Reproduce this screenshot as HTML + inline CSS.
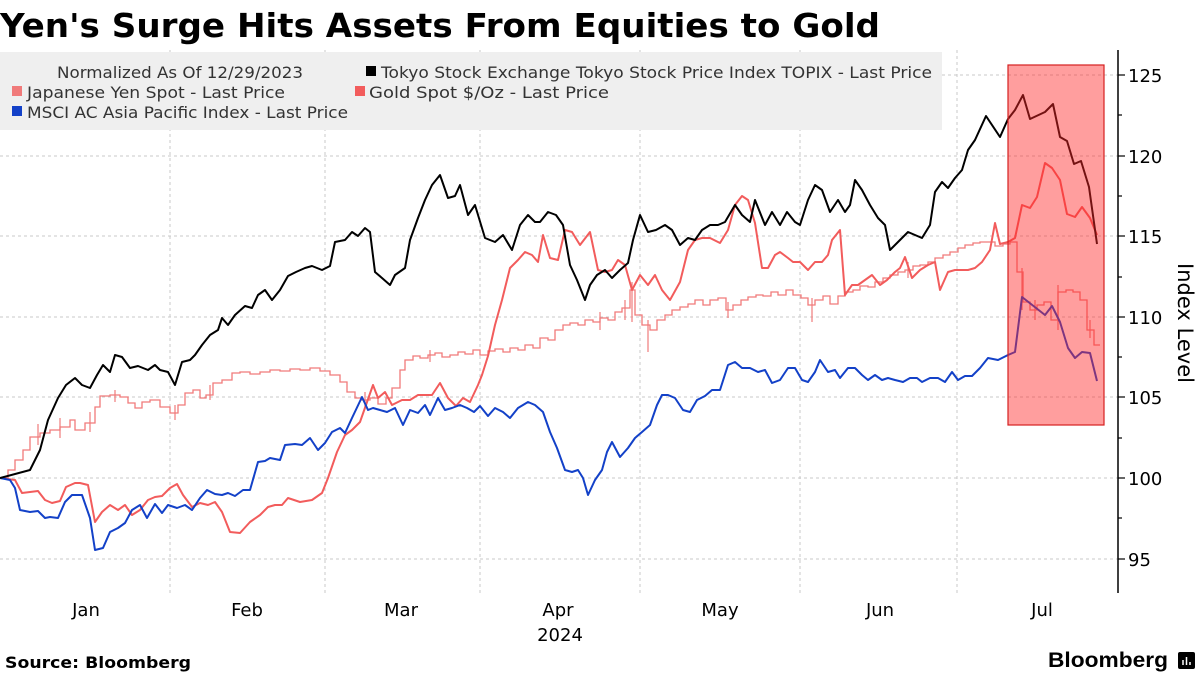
<!DOCTYPE html>
<html><head><meta charset="utf-8"><style>
body{margin:0;background:#fff;width:1200px;height:675px;overflow:hidden}
svg{display:block;font-family:"DejaVu Sans","Liberation Sans",sans-serif}
</style></head><body>
<svg width="1200" height="675" viewBox="0 0 1200 675" xmlns="http://www.w3.org/2000/svg">
<text x="0" y="37" font-size="33" font-weight="bold" fill="#000" textLength="880" lengthAdjust="spacingAndGlyphs">Yen's Surge Hits Assets From Equities to Gold</text>
<g stroke="#c8c8c8" stroke-dasharray="3,3" stroke-width="1">
<line x1="0" y1="75" x2="1118" y2="75"/><line x1="0" y1="156" x2="1118" y2="156"/><line x1="0" y1="236" x2="1118" y2="236"/><line x1="0" y1="317" x2="1118" y2="317"/><line x1="0" y1="397" x2="1118" y2="397"/><line x1="0" y1="478" x2="1118" y2="478"/><line x1="0" y1="559" x2="1118" y2="559"/>
<line x1="170" y1="50" x2="170" y2="593"/><line x1="325" y1="50" x2="325" y2="593"/><line x1="480" y1="50" x2="480" y2="593"/><line x1="640" y1="50" x2="640" y2="593"/><line x1="800" y1="50" x2="800" y2="593"/><line x1="957" y1="50" x2="957" y2="593"/>
</g>
<rect x="0" y="52" width="942" height="78" fill="#efefef"/>
<g font-size="16" fill="#333">
<text x="57" y="78" textLength="246" lengthAdjust="spacingAndGlyphs">Normalized As Of 12/29/2023</text>
<rect x="366" y="66" width="10" height="10" fill="#000"/><text x="381" y="78" textLength="551" lengthAdjust="spacingAndGlyphs">Tokyo Stock Exchange Tokyo Stock Price Index TOPIX - Last Price</text>
<rect x="12" y="86" width="10" height="10" fill="#f07a7a"/><text x="27" y="98" textLength="258" lengthAdjust="spacingAndGlyphs">Japanese Yen Spot - Last Price</text>
<rect x="355" y="86" width="10" height="10" fill="#f25c5c"/><text x="369" y="98" textLength="240" lengthAdjust="spacingAndGlyphs">Gold Spot $/Oz - Last Price</text>
<rect x="12" y="106" width="10" height="10" fill="#1341c8"/><text x="27" y="118" textLength="321" lengthAdjust="spacingAndGlyphs">MSCI AC Asia Pacific Index - Last Price</text>
</g>
<polyline fill="none" stroke="#f07a7a" stroke-width="1.3" points="0,478 8,478 8,470 15,470 15,460 23,460 23,450 30,450 30,437 40,437 40,433 50,433 50,430 60,430 60,427 70,427 70,420 75,420 75,430 85,430 85,423 95,423 95,407 100,407 100,396 110,396 110,395 120,395 120,397 128,397 128,403 135,403 135,408 142,408 142,402 150,402 150,400 160,400 160,407 170,407 170,413 178,413 178,405 185,405 185,393 193,393 193,390 200,390 200,398 206,398 206,395 213,395 213,383 222,383 222,380 232,380 232,373 240,373 240,372 250,372 250,374 260,374 260,372 270,372 270,370 280,370 280,371 290,371 290,369 300,369 300,370 310,370 310,368 320,368 320,371 330,371 330,375 340,375 340,382 347,382 347,392 355,392 355,398 362,398 362,400 370,400 370,398 378,398 378,404 386,404 386,398 392,398 392,388 400,388 400,370 405,370 405,360 413,360 413,356 420,356 420,358 428,358 428,355 435,355 435,353 442,353 442,357 450,357 450,355 458,355 458,352 465,352 465,354 473,354 473,350 480,350 480,355 488,355 488,351 495,351 495,349 503,349 503,352 510,352 510,348 518,348 518,350 525,350 525,345 533,345 533,348 540,348 540,338 548,338 548,340 555,340 555,330 563,330 563,325 570,325 570,323 578,323 578,325 585,325 585,320 593,320 593,322 600,322 600,318 608,318 608,320 615,320 615,312 622,312 622,308 630,308 630,290 635,290 635,315 642,315 642,325 650,325 650,330 657,330 657,320 665,320 665,315 672,315 672,310 680,310 680,307 688,307 688,304 695,304 695,300 703,300 703,305 710,305 710,300 718,300 718,298 726,298 726,310 733,310 733,305 741,305 741,300 748,300 748,297 756,297 756,295 763,295 763,296 771,296 771,292 778,292 778,295 786,295 786,290 793,290 793,295 801,295 801,298 808,298 808,305 815,305 815,300 823,300 823,296 830,296 830,304 838,304 838,296 845,296 845,292 853,292 853,290 860,290 860,286 868,286 868,287 875,287 875,282 883,282 883,278 890,278 890,275 898,275 898,272 905,272 905,270 913,270 913,266 920,266 920,265 928,265 928,262 935,262 935,258 943,258 943,255 950,255 950,252 958,252 958,248 965,248 965,245 973,245 973,243 980,243 980,242 995,242 995,246 1003,246 1003,244 1010,244 1010,242 1017,242 1017,272 1023,272 1023,302 1030,302 1030,310 1037,310 1037,305 1044,305 1044,302 1051,302 1051,320 1058,320 1058,292 1066,292 1066,290 1073,290 1073,292 1080,292 1080,300 1087,300 1087,330 1094,330 1094,345 1100,345"/>
<g stroke="#f07a7a" stroke-width="1.2">
<line x1="38" y1="424" x2="38" y2="445"/><line x1="60" y1="418" x2="60" y2="438"/><line x1="90" y1="412" x2="90" y2="432"/><line x1="115" y1="390" x2="115" y2="402"/><line x1="175" y1="405" x2="175" y2="420"/><line x1="210" y1="385" x2="210" y2="400"/><line x1="365" y1="392" x2="365" y2="408"/><line x1="430" y1="350" x2="430" y2="362"/><line x1="600" y1="312" x2="600" y2="330"/><line x1="625" y1="300" x2="625" y2="320"/><line x1="632" y1="282" x2="632" y2="322"/><line x1="648" y1="320" x2="648" y2="352"/><line x1="728" y1="302" x2="728" y2="318"/><line x1="812" y1="298" x2="812" y2="322"/><line x1="908" y1="262" x2="908" y2="278"/><line x1="1022" y1="268" x2="1022" y2="310"/><line x1="1035" y1="300" x2="1035" y2="320"/><line x1="1058" y1="285" x2="1058" y2="330"/><line x1="1090" y1="320" x2="1090" y2="338"/>
</g>
<polyline fill="none" stroke="#f25c5c" stroke-width="2" stroke-linejoin="round" points="0,478 15,480 22,493 30,492 38,491 45,500 52,503 60,501 66,487 75,483 80,483 88,485 95,522 102,512 110,505 118,510 125,505 132,515 140,510 148,500 155,497 162,496 170,488 177,484 183,495 192,507 200,503 208,505 215,502 222,512 230,532 240,533 250,522 260,515 268,507 275,505 282,505 288,498 300,502 312,500 322,493 328,478 337,452 345,435 352,430 360,422 373,385 378,398 385,392 392,405 402,400 410,400 418,395 425,395 432,395 440,383 448,398 456,406 463,398 470,402 478,385 482,375 488,356 495,325 502,300 510,268 518,260 525,252 532,255 538,262 543,235 550,258 558,260 565,230 572,232 580,245 590,232 598,270 605,272 612,270 618,260 625,265 632,290 640,275 648,285 655,275 662,290 670,300 680,282 688,250 695,240 702,238 710,238 720,243 728,230 735,205 742,196 748,200 755,223 762,268 768,268 775,255 780,252 788,258 793,262 800,262 808,270 815,262 822,262 828,255 832,240 840,230 845,295 852,285 858,285 865,280 872,275 880,285 887,280 895,272 900,268 905,257 912,278 920,270 928,265 935,262 940,290 948,272 955,270 968,270 975,268 982,262 990,250 995,223 1000,244 1008,242 1015,238 1022,205 1030,208 1037,197 1045,163 1052,168 1060,180 1067,214 1075,217 1082,207 1090,218 1097,235"/>
<polyline fill="none" stroke="#1341c8" stroke-width="2" stroke-linejoin="round" points="0,478 10,480 15,488 20,510 30,512 38,511 45,518 50,517 58,518 65,502 72,495 82,495 90,518 95,550 103,548 110,532 118,528 125,523 132,510 140,505 147,518 155,504 162,513 168,505 177,508 185,505 192,510 200,498 207,490 215,494 222,495 228,493 235,496 243,490 250,490 258,462 265,461 270,458 280,460 285,445 295,444 302,445 310,438 318,450 325,443 332,432 340,428 345,433 352,418 362,397 368,410 373,408 380,410 387,412 395,408 403,425 410,410 418,413 425,405 430,415 438,398 445,410 452,408 460,405 467,408 474,412 480,406 488,416 495,408 503,412 510,418 518,408 528,402 535,405 543,412 550,432 557,448 565,470 572,472 578,470 583,478 588,495 595,480 602,470 607,452 612,442 620,457 628,448 635,438 642,432 650,425 657,405 662,395 668,395 675,398 683,410 690,412 697,400 705,396 712,390 720,390 728,365 735,362 742,368 750,368 758,372 765,370 772,383 780,380 788,368 795,368 802,380 808,382 815,372 820,360 828,372 835,370 840,378 848,368 855,368 862,375 868,380 875,375 882,380 888,378 895,380 903,382 910,378 917,378 922,382 930,378 938,378 945,382 952,372 958,380 965,376 972,376 980,368 988,358 998,360 1008,355 1015,352 1022,297 1045,315 1052,306 1060,322 1068,348 1075,358 1082,352 1090,353 1097,381"/>
<polyline fill="none" stroke="#000" stroke-width="2" stroke-linejoin="round" points="0,478 30,470 40,450 48,420 58,398 66,385 75,378 82,385 90,388 97,375 103,365 110,372 115,355 122,357 130,368 138,366 148,370 155,365 160,370 168,372 175,385 182,362 190,360 195,355 202,345 210,335 218,330 222,318 228,325 235,315 245,306 252,308 258,295 265,290 272,300 280,290 288,276 296,272 305,268 312,266 322,270 330,266 335,242 345,240 352,232 358,236 365,228 370,232 375,272 382,278 390,285 395,275 405,268 410,240 418,218 425,200 432,185 440,175 448,198 455,196 460,185 468,215 475,205 485,238 495,242 503,235 512,250 520,225 528,215 535,222 540,222 548,212 556,215 563,225 570,265 577,280 585,300 590,285 597,275 605,270 612,278 620,270 628,263 633,240 640,215 648,232 656,230 665,225 672,230 680,245 688,238 695,240 702,230 710,225 718,225 725,222 735,205 742,215 750,222 755,200 765,225 772,212 780,225 787,212 795,222 800,225 808,200 815,185 822,190 830,212 838,200 845,212 850,205 855,180 862,190 870,205 878,218 885,225 890,250 900,240 908,232 915,235 922,238 930,225 935,192 942,182 948,188 955,178 962,170 968,150 975,140 986,116 1000,137 1008,119 1015,110 1023,95 1030,119 1045,112 1053,104 1060,137 1067,141 1074,164 1081,161 1089,187 1097,244"/>
<rect x="1008" y="65" width="96" height="360" fill="rgba(255,40,40,0.45)" stroke="#d42020" stroke-width="1.2"/>
<line x1="1118" y1="50" x2="1118" y2="593" stroke="#000" stroke-width="1.5"/>
<g stroke="#000" stroke-width="1.2">
<line x1="1118" y1="75" x2="1125" y2="75"/><line x1="1118" y1="156" x2="1125" y2="156"/><line x1="1118" y1="236" x2="1125" y2="236"/><line x1="1118" y1="317" x2="1125" y2="317"/><line x1="1118" y1="397" x2="1125" y2="397"/><line x1="1118" y1="478" x2="1125" y2="478"/><line x1="1118" y1="559" x2="1125" y2="559"/>
<line x1="1118" y1="115" x2="1122" y2="115"/><line x1="1118" y1="196" x2="1122" y2="196"/><line x1="1118" y1="277" x2="1122" y2="277"/><line x1="1118" y1="357" x2="1122" y2="357"/><line x1="1118" y1="438" x2="1122" y2="438"/><line x1="1118" y1="518" x2="1122" y2="518"/>
</g>
<g font-size="18" fill="#000">
<text x="1128" y="82">125</text><text x="1128" y="163">120</text><text x="1128" y="243">115</text><text x="1128" y="324">110</text><text x="1128" y="404">105</text><text x="1128" y="485">100</text><text x="1128" y="566">95</text>
</g>
<text transform="translate(1178,323) rotate(90)" font-size="21" text-anchor="middle" fill="#000">Index Level</text>
<g font-size="18" fill="#000" text-anchor="middle">
<text x="86" y="616">Jan</text><text x="247" y="616">Feb</text><text x="401" y="616">Mar</text><text x="558" y="616">Apr</text><text x="720" y="616">May</text><text x="880" y="616">Jun</text><text x="1042" y="616">Jul</text><text x="560" y="641">2024</text>
</g>
<text x="5" y="668" font-size="16" font-weight="bold" fill="#000" textLength="186" lengthAdjust="spacingAndGlyphs">Source: Bloomberg</text>
<text x="1048" y="667" font-size="21" font-weight="bold" fill="#000" textLength="120" lengthAdjust="spacingAndGlyphs" font-family="Liberation Sans">Bloomberg</text>
<rect x="1178" y="652" width="17" height="17" rx="2" fill="#000"/>
<g stroke="#fff" stroke-width="1.5"><line x1="1183" y1="665" x2="1183" y2="660"/><line x1="1186.5" y1="665" x2="1186.5" y2="657"/><line x1="1190" y1="665" x2="1190" y2="662"/></g>
</svg>
</body></html>
